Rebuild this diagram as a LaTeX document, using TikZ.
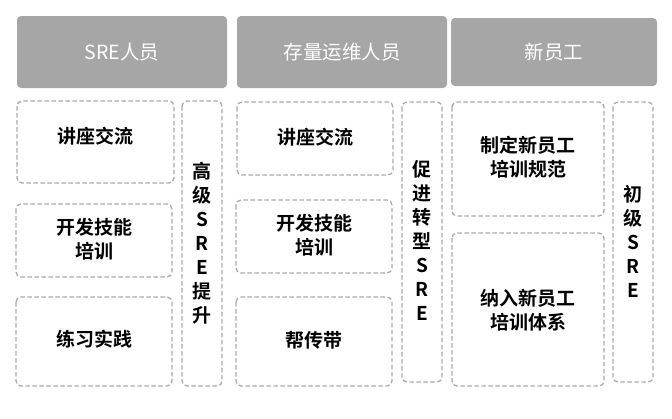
\documentclass[tikz,border=0pt]{standalone}
\usepackage{fontspec}
\setmainfont{Noto Sans CJK SC}[BoldFont={Noto Sans CJK SC Bold}]
\newfontfamily\cjk{Noto Sans CJK SC}[BoldFont={Noto Sans CJK SC Bold}]
\begin{document}
\begin{tikzpicture}[x=1pt,y=-1pt,
  header/.style={fill=headgray,rounded corners=4pt,draw=none},
  dbox/.style={draw=dashgray,line width=1.3pt,dash pattern=on 4.5pt off 2.5pt,rounded corners=5pt},
  htext/.style={text=white,font=\cjk\fontsize{19.5}{22}\selectfont},
  btext/.style={text=black,font=\cjk\bfseries\fontsize{19}{24}\selectfont,align=center},
  vtext/.style={text=black,font=\cjk\bfseries\fontsize{19}{24}\selectfont,align=center}]
\definecolor{headgray}{HTML}{A6A6A6}
\definecolor{dashgray}{HTML}{AAAAAA}
\useasboundingbox (0,0) rectangle (672,418);
% headers
\draw[header] (17,16) rectangle (227,88);
\node[htext] (h1) at (122,52) {SRE人员};
\draw[header] (237,16) rectangle (447,88);
\node[htext] (h2) at (342,52) {存量运维人员};
\draw[header] (451,18) rectangle (657,86);
\node[htext] (h3) at (554,52) {新员工};
% column 1
\draw[dbox] (17,101) rectangle (174,183);
\node[btext] (a1) at (95.5,136) {讲座交流};
\draw[dbox] (16,204) rectangle (172,277);
\node[btext] (a2) at (94,239) {开发技能\\培训};
\draw[dbox] (16,297) rectangle (172,386);
\node[btext] (a3) at (94,339) {练习实践};
\draw[dbox] (182,101) rectangle (222,386);
\node[vtext] (a4) at (202,243) {高\\级\\S\\R\\E\\提\\升};
% column 2
\draw[dbox] (237,102) rectangle (393,175);
\node[btext] (b1) at (315,137) {讲座交流};
\draw[dbox] (236,200) rectangle (392,273);
\node[btext] (b2) at (314,235) {开发技能\\培训};
\draw[dbox] (236,297) rectangle (392,386);
\node[btext] (b3) at (314,340) {帮传带};
\draw[dbox] (402,102) rectangle (442,382);
\node[vtext] (b4) at (422,240) {促\\进\\转\\型\\S\\R\\E};
% column 3
\draw[dbox] (452,102) rectangle (604,216);
\node[btext] (c1) at (528,157) {制定新员工\\培训规范};
\draw[dbox] (452,233) rectangle (604,386);
\node[btext] (c2) at (528,310) {纳入新员工\\培训体系};
\draw[dbox] (613,102) rectangle (653,382);
\node[vtext] (c3) at (633,241) {初\\级\\S\\R\\E};
\end{tikzpicture}
\end{document}
